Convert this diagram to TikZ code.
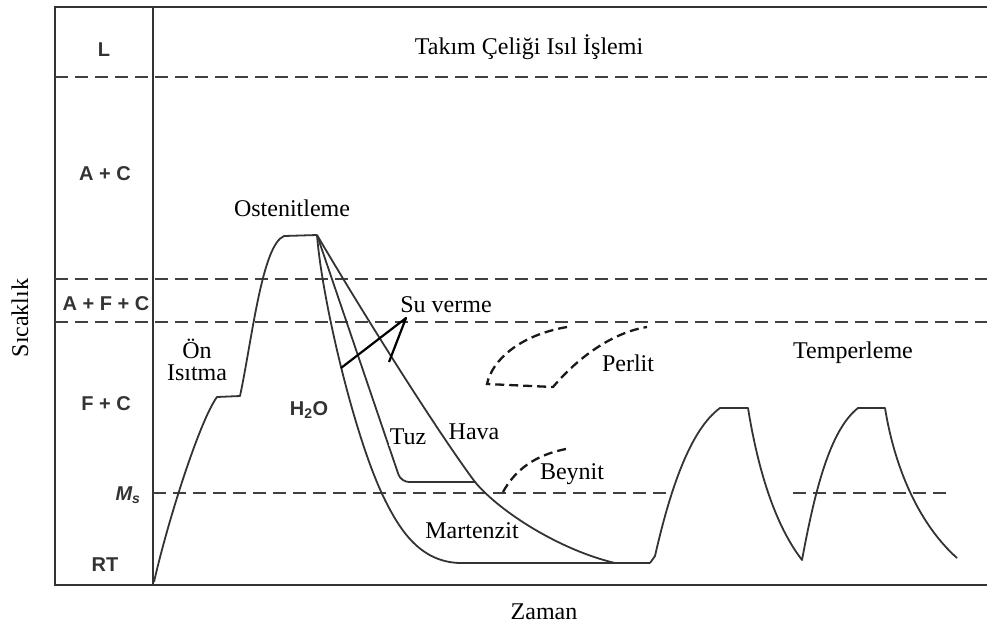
\documentclass[tikz,border=0pt]{standalone}
\usepackage{fontspec}
\setmainfont{Liberation Serif}
\setsansfont{Liberation Sans}
\begin{document}
\begin{tikzpicture}[x=1pt, y=-1pt,
        frame/.style={line width=2.8pt, black!80},
        phase/.style={line width=2.6pt, black!75, dash pattern=on 13pt off 7pt},
        curve/.style={line width=1.8pt, black!80, line join=round},
        trans/.style={line width=2.3pt, black!90, dash pattern=on 9pt off 5pt},
        lbl/.style={font=\fontsize{24}{28}\selectfont, inner sep=1pt, align=center},
        zone/.style={font=\sffamily\bfseries\fontsize{20}{24}\selectfont, text=black!80, inner sep=1pt}]
    \useasboundingbox (0,0) rectangle (987,633);
    % frame and phase fields
    \draw[frame] (987,7) -- (55,7) -- (55,585) -- (987,585);
    \draw[frame] (153,7) -- (153,585);
    \foreach \yy in {77,279,322}
        \draw[phase] (55,\yy) -- (987,\yy);
    \draw[phase] (153,493) -- (668,493);
    \draw[phase] (793,493) -- (950,493);
    \node[zone] (liq) at (104,50) {L};
    \node[zone] (ac) at (105,174) {A + C};
    \node[zone] (afc) at (106,304) {A + F + C};
    \node[zone] (fc) at (106,404) {F + C};
    \node[zone] (ms) at (128,495) {\itshape M\textsubscript{s}};
    \node[zone] (rt) at (105,565) {RT};
    % axes
    \node[lbl, rotate=90] (ylab) at (20,318) {Sıcaklık};
    \node[lbl] (xlab) at (544,612) {Zaman};
    \node[lbl] (title) at (529,47) {Takım Çeliği Isıl İşlemi};
    % heating and austenitizing
    \draw[curve] (154,582) .. controls (168,520) and (200,420) .. (217,397) -- (240,396)
        .. controls (252,340) and (262,245) .. (284,236) -- (317,235);
    % quenching
    \draw[curve] (317,235) .. controls (322,300) and (355,440) .. (385,500)
        .. controls (400,530) and (420,562) .. (460,563) -- (650,563);
    \draw[curve, rounded corners=8pt] (317,235) -- (401,482) -- (476,482);
    \draw[curve] (317,235) .. controls (370,325) and (440,435) .. (475,482)
        .. controls (500,512) and (560,550) .. (615,563);
    \node[lbl, fill=white] (tuz) at (408,437) {Tuz};
    % transformation curves
    \draw[trans] (567,327) .. controls (520,335) and (492,360) .. (487,384) -- (553,387)
        .. controls (580,355) and (615,332) .. (647,327);
    \draw[trans] (503,492) .. controls (515,470) and (535,455) .. (566,449);
    % tempering
    \draw[curve] (650,563) -- (655,556) .. controls (670,490) and (690,430) .. (720,408) -- (748,408)
        .. controls (758,470) and (775,525) .. (802,560)
        .. controls (815,490) and (830,430) .. (858,408) -- (885,408)
        .. controls (895,470) and (920,525) .. (957,558);
    % labels
    \node[lbl] (osten) at (292,208) {Ostenitleme};
    \node[lbl] (onis) at (197,360) {Ön\\[-6pt]Isıtma};
    \node[lbl] (suv) at (446,305) {Su verme};
    \node[zone] (water) at (309,410) {H\textsubscript{2}O};
    \node[lbl] (hava) at (474,432) {Hava};
    \node[lbl] (perlit) at (628,363) {Perlit};
    \node[lbl] (beynit) at (572,474) {Beynit};
    \node[lbl] (mart) at (472,531) {Martenzit};
    \node[lbl] (temp) at (853,353) {Temperleme};
    \coordinate (tip) at (406,318);
    \draw[line width=2.2pt, black, line join=round] (341,368) -- (tip) -- (389,362);
\end{tikzpicture}
\end{document}
